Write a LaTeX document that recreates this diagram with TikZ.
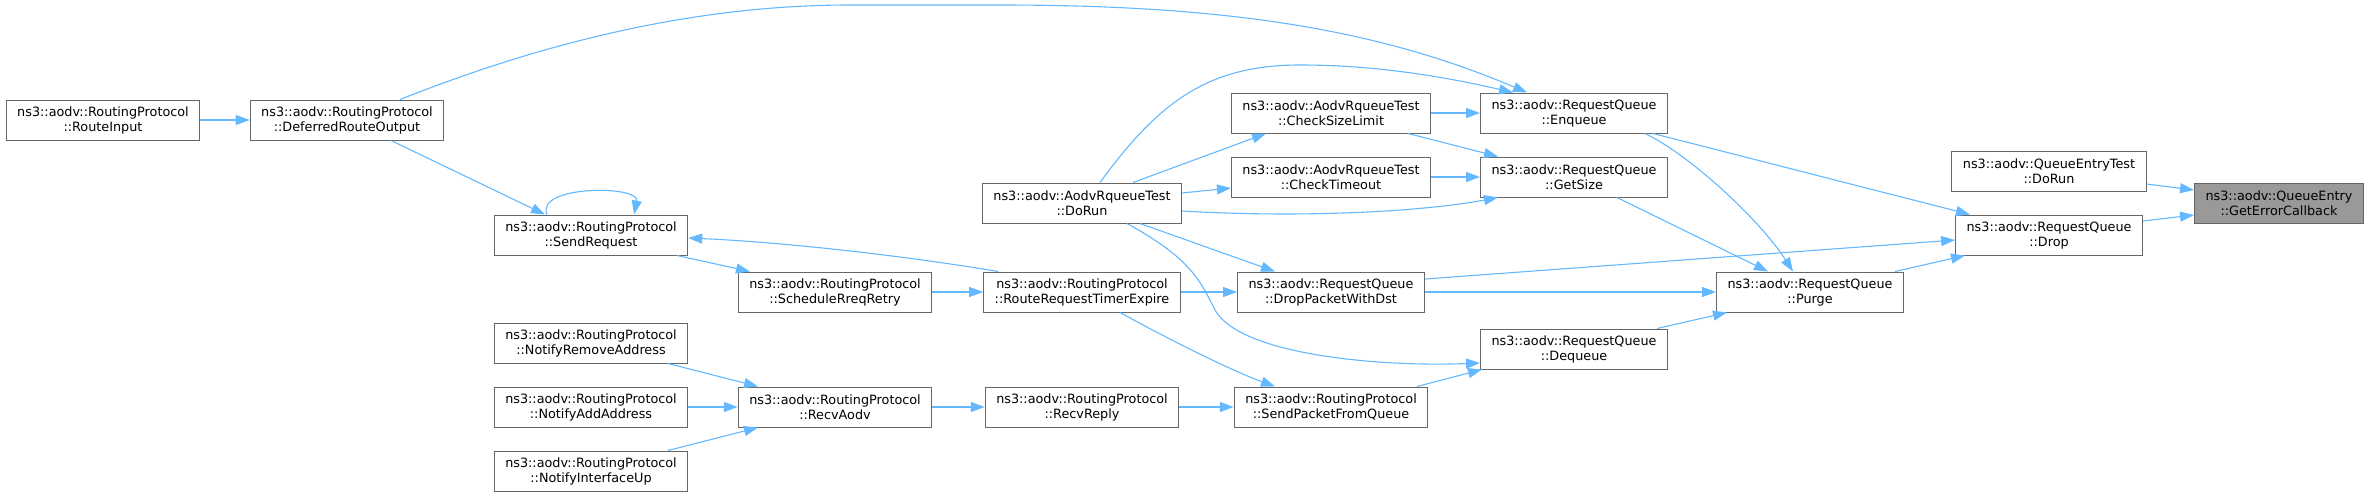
\documentclass[tikz,border=0pt]{standalone}
\usepackage{fontspec}
\setmainfont{DejaVu Sans}
\usetikzlibrary{arrows.meta}
\definecolor{edgeblue}{HTML}{63B8FF}
\definecolor{boxgray}{HTML}{666666}
\definecolor{hlgray}{HTML}{999999}
\begin{document}
\begin{tikzpicture}[x=1pt,y=-1pt,
    fn/.style={draw=boxgray, line width=1pt, fill=white, minimum height=40pt,
               inner xsep=11pt, inner ysep=0pt, align=center,
               font=\fontsize{12.8}{15}\selectfont},
    hl/.style={fn, fill=hlgray},
    call/.style={edgeblue, line width=1.1pt, -{Triangle[length=14pt,width=10pt]}}]
    \useasboundingbox (0,0) rectangle (2369,496);

    % Routing protocol callers
    \node[fn] (ri)   at (103,120) {ns3::aodv::RoutingProtocol\\::RouteInput};
    \node[fn] (dro)  at (347,120) {ns3::aodv::RoutingProtocol\\::DeferredRouteOutput};
    \node[fn] (sreq) at (591,235) {ns3::aodv::RoutingProtocol\\::SendRequest};
    \node[fn] (nra)  at (591,343) {ns3::aodv::RoutingProtocol\\::NotifyRemoveAddress};
    \node[fn] (naa)  at (591,407) {ns3::aodv::RoutingProtocol\\::NotifyAddAddress};
    \node[fn] (niu)  at (591,471) {ns3::aodv::RoutingProtocol\\::NotifyInterfaceUp};
    \node[fn] (srr)  at (835,292) {ns3::aodv::RoutingProtocol\\::ScheduleRreqRetry};
    \node[fn] (ra)   at (835,407) {ns3::aodv::RoutingProtocol\\::RecvAodv};
    \node[fn] (rrte) at (1082,292) {ns3::aodv::RoutingProtocol\\::RouteRequestTimerExpire};
    \node[fn] (rr)   at (1082,407) {ns3::aodv::RoutingProtocol\\::RecvReply};
    \node[fn] (spq)  at (1331,407) {ns3::aodv::RoutingProtocol\\::SendPacketFromQueue};

    % Tests
    \node[fn] (tdr) at (1082,203) {ns3::aodv::AodvRqueueTest\\::DoRun};
    \node[fn] (csl) at (1331,113) {ns3::aodv::AodvRqueueTest\\::CheckSizeLimit};
    \node[fn] (cto) at (1331,177) {ns3::aodv::AodvRqueueTest\\::CheckTimeout};
    \node[fn] (qet) at (2049,171) {ns3::aodv::QueueEntryTest\\::DoRun};

    % Request queue
    \node[fn] (dpd) at (1331,292) {ns3::aodv::RequestQueue\\::DropPacketWithDst};
    \node[fn] (enq) at (1574,113) {ns3::aodv::RequestQueue\\::Enqueue};
    \node[fn] (gsz) at (1574,177) {ns3::aodv::RequestQueue\\::GetSize};
    \node[fn] (deq) at (1574,349) {ns3::aodv::RequestQueue\\::Dequeue};
    \node[fn] (prg) at (1810,292) {ns3::aodv::RequestQueue\\::Purge};
    \node[fn] (drp) at (2049,235) {ns3::aodv::RequestQueue\\::Drop};

    % Target
    \node[hl] (gec) at (2279,203) {ns3::aodv::QueueEntry\\::GetErrorCallback};

    % Calls on the left
    \draw[call] (ri) -- (dro);
    \draw[call] ([xshift=53pt]dro.north) .. controls (550,40) and (700,5) .. (850,5)
        -- (1000,5) .. controls (1230,5) and (1380,30) .. ([xshift=-47pt]enq.north);
    \draw[call] ([xshift=44pt]dro.south) -- ([xshift=-46pt]sreq.north);
    \draw[call] ([xshift=-44pt]sreq.north) .. controls (535,185) and (640,185) .. ([xshift=43pt]sreq.north);
    \draw[call] ([xshift=86pt]sreq.south) -- ([xshift=-85pt]srr.north);
    \draw[call] ([xshift=-84pt]rrte.north) .. controls (900,255) and (780,242) .. ([yshift=-3pt]sreq.east);
    \draw[call] (srr) -- (rrte);
    \draw[call] ([xshift=77pt]nra.south) -- ([xshift=-77pt]ra.north);
    \draw[call] (naa) -- (ra);
    \draw[call] ([xshift=77pt]niu.north) -- ([xshift=-77pt]ra.south);
    \draw[call] (ra) -- (rr);
    \draw[call] (rr) -- (spq);

    % Calls in the middle
    \draw[call] ([xshift=38pt]rrte.south) .. controls (1170,340) and (1230,370) .. ([xshift=-56pt]spq.north);
    \draw[call] (rrte) -- (dpd);
    \draw[call] ([xshift=51pt]tdr.north) -- ([xshift=-65pt]csl.south);
    \draw[call] ([yshift=10pt]tdr.east) -- ([yshift=-11pt]cto.west);
    \draw[call] ([xshift=18pt]tdr.north) .. controls (1160,100) and (1210,65) .. (1300,65)
        .. controls (1380,65) and (1450,78) .. ([xshift=-61pt]enq.north);
    \draw[call] ([yshift=-8pt]tdr.east) .. controls (1300,218) and (1420,212) .. ([xshift=-76pt]gsz.south);
    \draw[call] ([xshift=58pt]tdr.south) -- ([xshift=-56pt]dpd.north);
    \draw[call] ([xshift=45pt]tdr.south) .. controls (1190,258) and (1200,280) .. (1215,310)
        .. controls (1240,355) and (1380,367) .. ([yshift=-14pt]deq.west);
    \draw[call] (csl) -- (enq);
    \draw[call] ([xshift=77pt]csl.south) -- ([xshift=-76pt]gsz.north);
    \draw[call] (cto) -- (gsz);
    \draw[call] ([xshift=86pt]spq.north) -- ([xshift=-92pt]deq.south);

    % Calls on the right
    \draw[call] ([xshift=79pt]enq.south) -- ([xshift=-79pt]drp.north);
    \draw[call] ([xshift=71pt]enq.south) .. controls (1690,155) and (1760,220) .. ([xshift=-17pt]prg.north);
    \draw[call] ([xshift=43pt]gsz.south) -- ([xshift=-42pt]prg.north);
    \draw[call] ([yshift=13pt]dpd.east) -- ([yshift=-5pt]drp.west);
    \draw[call] (dpd) -- (prg);
    \draw[call] ([xshift=83pt]deq.north) -- ([xshift=-83pt]prg.south);
    \draw[call] ([xshift=85pt]prg.north) -- ([xshift=-84pt]drp.south);
    \draw[call] ([yshift=-13pt]qet.east) -- ([yshift=13pt]gec.west);
    \draw[call] ([yshift=14pt]drp.east) -- ([yshift=-12pt]gec.west);
\end{tikzpicture}
\end{document}
